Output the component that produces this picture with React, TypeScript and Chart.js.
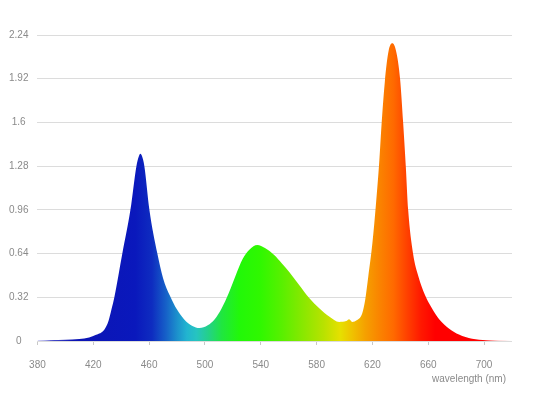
import React, { useEffect, useRef } from "react";
import { Chart, registerables } from "chart.js";

Chart.register(...registerables);

// wavelength (nm) and relative intensity
const wavelengths = [
  380, 390, 400, 410, 417, 422, 428, 431, 433, 435.1, 440.8, 446.6, 450.9, 452.6, 453.7, 455,
  456.6, 460.2, 465.9, 470, 475, 480, 485, 491, 496, 502, 507, 512, 517, 522, 527, 532, 537.5,
  543, 549.6, 555, 560.4, 567.5, 574.7, 581.9, 589, 596.2, 601.2, 603.3, 605.5, 609, 612.6, 614.8,
  617, 620, 622.5, 624.8, 626.5, 628.9, 631.5, 634.3, 637, 639.8, 642, 643.9, 645.6, 649.1, 653,
  657.5, 662, 667.8, 675, 682, 691.4, 701.4, 720,
];
const intensity = [
  0.005, 0.007, 0.01, 0.015, 0.025, 0.045, 0.085, 0.15, 0.23, 0.32, 0.64, 0.96, 1.28, 1.35, 1.37,
  1.35, 1.28, 0.96, 0.64, 0.46, 0.33, 0.23, 0.16, 0.11, 0.095, 0.115, 0.16, 0.24, 0.35, 0.48, 0.6,
  0.67, 0.703, 0.68, 0.63, 0.57, 0.505, 0.41, 0.315, 0.24, 0.18, 0.14, 0.146, 0.16, 0.14, 0.153,
  0.2, 0.3, 0.47, 0.72, 1.0, 1.3, 1.58, 1.9, 2.12, 2.18, 2.12, 1.92, 1.6, 1.28, 0.96, 0.64, 0.47,
  0.34, 0.25, 0.16, 0.09, 0.047, 0.016, 0.005, 0,
];

// x tick labels
const xTicks = [380, 420, 460, 500, 540, 580, 620, 660, 700];
const xMin = 380;
const xMax = 720;
const yMax = 2.24;
const yStep = 0.32;
const xTitle = "wavelength (nm)";

// spectrum colour stops (nm, colour)
const stopNm = [
  380, 392, 405, 450, 462, 472, 480, 487, 494, 502, 512, 525, 540, 555, 570, 585, 597, 606, 615,
  625, 635, 645, 655, 665, 700, 712, 720,
];
const stopColors = [
  "rgba(40,40,200,0.25)", "rgba(20,25,185,0.8)", "#0c14b4", "#0a18bc", "#0e2cc0", "#1660c8",
  "#1c90cc", "#22b4d0", "#26c4c0", "#24d08c", "#20e640", "#22f808", "#30f800", "#58f000",
  "#88e800", "#b8e200", "#e6e000", "#f0c000", "#f5a000", "#fa8400", "#ff6a00", "#ff4000",
  "#ff1800", "#ff0000", "#ff0000", "rgba(255,0,0,0.5)", "rgba(255,60,60,0.1)",
];

const FONT = "'Liberation Sans', Arial, Helvetica, sans-serif";
const TEXT = "#8a8a8a";

const titlePlugin = {
  id: "xTitle",
  afterDraw(chart: any) {
    const { ctx, chartArea } = chart;
    ctx.save();
    ctx.font = `10px ${FONT}`;
    ctx.fillStyle = TEXT;
    ctx.textAlign = "right";
    ctx.textBaseline = "middle";
    ctx.fillText(xTitle, chartArea.right - 6, chartArea.bottom + 38);
    ctx.restore();
  },
};

export default function App() {
  const ref = useRef<HTMLCanvasElement>(null);

  useEffect(() => {
    if (!ref.current) return;
    const chart = new Chart(ref.current, {
      type: "line",
      data: {
        datasets: [
          {
            data: wavelengths.map((w, i) => ({ x: w, y: intensity[i] })),
            fill: "origin",
            borderWidth: 0,
            borderColor: "rgba(0,0,0,0)",
            pointRadius: 0,
            cubicInterpolationMode: "monotone",
            backgroundColor: (ctx: any) => {
              const c = ctx.chart;
              const area = c.chartArea;
              const xs = c.scales.x;
              if (!area || !xs) return "#0a18bc";
              const g = c.ctx.createLinearGradient(area.left, 0, area.right, 0);
              const w = area.right - area.left;
              stopNm.forEach((nm, i) => {
                const p = (xs.getPixelForValue(nm) - area.left) / w;
                g.addColorStop(Math.min(1, Math.max(0, p)), stopColors[i]);
              });
              return g;
            },
          },
        ],
      },
      plugins: [titlePlugin],
      options: {
        animation: false,
        responsive: true,
        maintainAspectRatio: false,
        layout: { padding: { left: 0, right: 21, top: 35, bottom: 12 } },
        plugins: { legend: { display: false }, tooltip: { enabled: false } },
        scales: {
          x: {
            type: "linear",
            min: xMin,
            max: xMax,
            border: { display: false },
            afterBuildTicks: (scale: any) => {
              scale.ticks = xTicks.map((v) => ({ value: v }));
            },
            grid: {
              drawOnChartArea: false,
              drawTicks: true,
              tickLength: 4,
              color: "#c8c8c8",
            },
            ticks: {
              padding: 14,
              color: TEXT,
              font: { family: FONT, size: 10 },
              maxRotation: 0,
              autoSkip: false,
              callback: (v: any) => String(v),
            },
          },
          y: {
            min: 0,
            max: yMax,
            border: { display: false },
            grid: { drawTicks: false, color: "#dcdcdc", lineWidth: 1 },
            ticks: {
              stepSize: yStep,
              padding: 9,
              crossAlign: "center",
              color: TEXT,
              font: { family: FONT, size: 10 },
              callback: (v: any) => String(Math.round(v * 100) / 100),
            },
          },
        },
      },
    });
    return () => chart.destroy();
  }, []);

  return (
    <div style={{ position: "fixed", left: 0, top: 0, width: 533, height: 397, background: "#fff" }}>
      <canvas ref={ref} />
    </div>
  );
}
